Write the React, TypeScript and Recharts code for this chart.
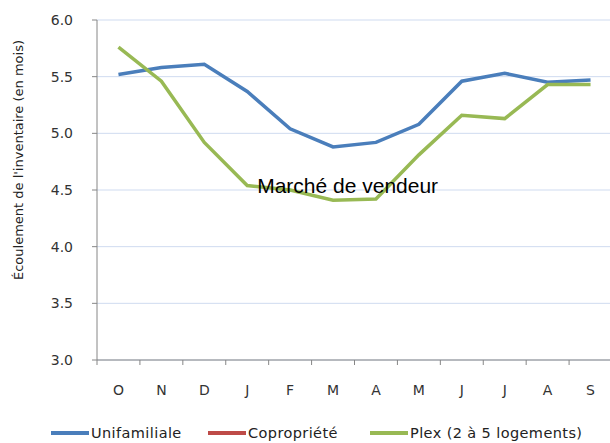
import { CartesianGrid, Line, LineChart, ReferenceDot, XAxis, YAxis } from 'recharts';

const months = ['O', 'N', 'D', 'J', 'F', 'M', 'A', 'M', 'J', 'J', 'A', 'S'];
const unifamiliale = [5.52, 5.58, 5.61, 5.37, 5.04, 4.88, 4.92, 5.08, 5.46, 5.53, 5.45, 5.47];
const copropriete: (number | null)[] = months.map(() => null);
const plex = [5.76, 5.46, 4.92, 4.54, 4.5, 4.41, 4.42, 4.81, 5.16, 5.13, 5.43, 5.43];
const yTicks = [3, 3.5, 4, 4.5, 5, 5.5, 6];
const xTicks = [0, 1, 2, 3, 4, 5, 6, 7, 8, 9, 10, 11, 12];

const series = [
  { key: 'uni', name: 'Unifamiliale', color: '#4a7ebb', values: unifamiliale },
  { key: 'copro', name: 'Copropriété', color: '#be4b48', values: copropriete },
  { key: 'plex', name: 'Plex (2 à 5 logements)', color: '#98b954', values: plex },
];

const data = months.map((m, i) => ({
  x: i + 0.5,
  uni: unifamiliale[i],
  copro: copropriete[i],
  plex: plex[i],
}));

const W = 620;
const H = 443;
const M = { top: 20, right: 8, left: 0, bottom: 43 };
const Y_W = 97;
const BAND = (W - M.left - M.right - Y_W) / months.length;

const font = '"DejaVu Sans", sans-serif';

function MonthTick(props: any) {
  const { x, y, payload } = props;
  const i = payload.value as number;
  return (
    <g>
      <line x1={x} y1={y} x2={x} y2={y + 5} stroke="#868686" />
      {i < months.length && (
        <text
          x={x + BAND / 2}
          y={y + 35}
          textAnchor="middle"
          fontSize={14}
          fontFamily={font}
          fill="#333"
        >
          {months[i]}
        </text>
      )}
    </g>
  );
}

function YLabel(props: any) {
  const vb = props.viewBox || { x: 0, y: 0, width: 0, height: 0 };
  const cx = 18;
  const cy = vb.y + vb.height / 2 - 30;
  return (
    <text
      x={cx}
      y={cy}
      transform={`rotate(-90 ${cx} ${cy})`}
      textAnchor="middle"
      dominantBaseline="central"
      fontSize={13}
      fontFamily={font}
      fill="#222"
    >
      Écoulement de l'inventaire (en mois)
    </text>
  );
}

export default function App() {
  return (
    <div style={{ position: 'absolute', left: 0, top: 0, width: 610, height: 443, overflow: 'hidden', background: '#fff' }}>
      <LineChart width={W} height={H} data={data} margin={M}>
        <CartesianGrid vertical={false} stroke="#cfdbf0" strokeWidth={1} />
        <XAxis
          dataKey="x"
          type="number"
          domain={[0, 12]}
          ticks={xTicks}
          interval={0}
          height={40}
          tickSize={0}
          tickMargin={0}
          tickLine={false}
          axisLine={{ stroke: '#868686' }}
          tick={<MonthTick />}
        />
        <YAxis
          domain={[3, 6]}
          ticks={yTicks}
          interval={0}
          width={Y_W}
          tickSize={5}
          tickMargin={19}
          tickLine={{ stroke: '#868686' }}
          axisLine={{ stroke: '#868686' }}
          tickFormatter={(v) => Number(v).toFixed(1)}
          tick={{ fontSize: 14, fontFamily: font, fill: '#333' }}
          label={<YLabel />}
        />
        {series.map((s) => (
          <Line
            key={s.key}
            type="linear"
            dataKey={s.key}
            name={s.name}
            stroke={s.color}
            strokeWidth={3.5}
            dot={false}
            activeDot={false}
            isAnimationActive={false}
          />
        ))}
        <ReferenceDot
          x={5.84}
          y={4.5}
          r={0}
          fill="none"
          stroke="none"
          label={{
            value: 'Marché de vendeur',
            position: 'center',
            fontSize: 21,
            fontFamily: '"Liberation Sans", Arial, sans-serif',
            fill: '#000',
            dy: -4,
          }}
        />
      </LineChart>
      <div style={{ position: 'absolute', top: 424, left: 0, height: 18, fontFamily: font, fontSize: 14.5, color: '#222' }}>
        {series.map((s, i) => (
          <div
            key={s.key}
            style={{ position: 'absolute', left: [51, 208, 370][i], top: 0, display: 'flex', alignItems: 'center', whiteSpace: 'nowrap' }}
          >
            <span style={{ display: 'inline-block', width: 38, height: 4, background: s.color, marginRight: 2 }} />
            <span style={{ letterSpacing: 0.4, lineHeight: '18px' }}>{s.name}</span>
          </div>
        ))}
      </div>
    </div>
  );
}
